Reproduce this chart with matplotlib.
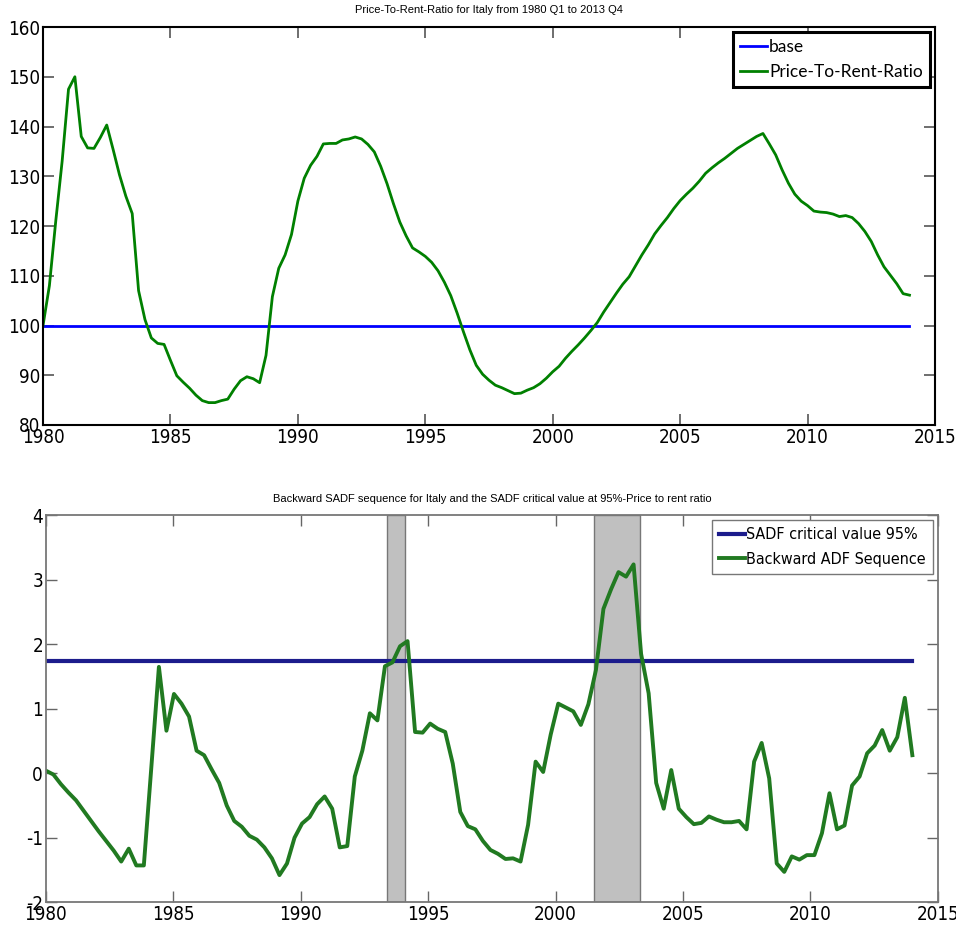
import numpy as np
import matplotlib.pyplot as plt

plt.rcParams['axes.unicode_minus'] = False

# quarterly price-to-rent ratio, 1980 Q1 .. 2014 Q1
ratio = [100, 108, 121, 133, 147.5, 150, 138, 135.7, 135.6, 137.8, 140.3, 135.4,
         130.3, 126, 122.5, 107, 101.2, 97.5, 96.4, 96.2, 93, 89.9, 88.6, 87.4,
         86, 84.9, 84.5, 84.5, 84.9, 85.2, 87.2, 88.9, 89.7, 89.3, 88.5, 94,
         105.8, 111.5, 114.2, 118.3, 125, 129.6, 132.2, 134, 136.5, 136.6, 136.6, 137.3,
         137.5, 137.9, 137.5, 136.4, 134.9, 132, 128.5, 124.5, 120.8, 118, 115.6, 114.8,
         113.9, 112.7, 111, 108.7, 106, 102.5, 98.7, 95.1, 92, 90.2, 89, 88,
         87.5, 86.9, 86.3, 86.4, 87, 87.5, 88.3, 89.4, 90.7, 91.8, 93.4, 94.8,
         96.1, 97.5, 99, 100.6, 102.7, 104.6, 106.5, 108.3, 109.8, 112, 114.2, 116.2,
         118.4, 120.1, 121.7, 123.5, 125.1, 126.4, 127.6, 129, 130.6, 131.7, 132.7, 133.6,
         134.6, 135.6, 136.4, 137.2, 138, 138.6, 136.5, 134.3, 131.3, 128.6, 126.4, 125,
         124.1, 123, 122.8, 122.7, 122.4, 121.9, 122.1, 121.7, 120.5, 118.9, 116.9, 114.2,
         111.8, 110.1, 108.4, 106.4, 106.1]
base = 100

# backward ADF statistics
badf = [0.04, -0.02, -0.17, -0.30, -0.42, -0.58, -0.74, -0.90, -1.05, -1.20,
        -1.37, -1.17, -1.43, -1.43, 0.1, 1.65, 0.66, 1.23, 1.08, 0.88,
        0.35, 0.28, 0.06, -0.15, -0.5, -0.74, -0.83, -0.97, -1.03, -1.15,
        -1.32, -1.58, -1.40, -1.0, -0.78, -0.68, -0.48, -0.36, -0.55, -1.15,
        -1.13, -0.05, 0.35, 0.93, 0.82, 1.66, 1.72, 1.97, 2.05, 0.64,
        0.63, 0.77, 0.69, 0.64, 0.15, -0.6, -0.82, -0.87, -1.05, -1.19,
        -1.25, -1.33, -1.32, -1.37, -0.8, 0.18, 0.02, 0.6, 1.08, 1.02,
        0.96, 0.75, 1.07, 1.6, 2.55, 2.85, 3.12, 3.05, 3.24, 1.85,
        1.24, -0.15, -0.55, 0.05, -0.55, -0.68, -0.79, -0.77, -0.67, -0.72,
        -0.76, -0.76, -0.74, -0.87, 0.18, 0.47, -0.08, -1.40, -1.53, -1.29,
        -1.34, -1.27, -1.27, -0.93, -0.31, -0.87, -0.81, -0.19, -0.05, 0.31,
        0.43, 0.67, 0.35, 0.56, 1.17, 0.28]
crit = 1.74
bubbles = [(1993.4, 1994.1), (2001.5, 2003.3)]

t1 = 1980 + np.arange(len(ratio)) / 4
t2 = np.linspace(1980, 2014, len(badf))
years = np.arange(1980, 2016, 5)

cond = {'family': 'DejaVu Sans', 'stretch': 'condensed'}

fig = plt.figure(figsize=(9.56, 9.32), dpi=100)

# ---- top panel
ax1 = fig.add_axes([0.045, 0.544, 0.933, 0.427])
ax1.plot(t1, np.full(len(t1), base), color='#0000ff', lw=2, label='base')
ax1.plot(t1, ratio, color='#008000', lw=2, label='Price-To-Rent-Ratio')
ax1.set_xlim(1980, 2015)
ax1.set_ylim(80, 160)
ax1.set_xticks(years)
ax1.set_yticks(np.arange(80, 161, 10))
ax1.tick_params(direction='in', length=8, width=1.2, color='#555555',
                top=True, right=True, labelsize=13.5, pad=2)
for lab in ax1.get_xticklabels() + ax1.get_yticklabels():
    lab.set_family(cond['family'])
    lab.set_stretch(cond['stretch'])
for s in ax1.spines.values():
    s.set_linewidth(1.5)
ax1.set_title('Price-To-Rent-Ratio for Italy from 1980 Q1 to 2013 Q4',
              fontsize=8, family='Liberation Sans', pad=10)
leg = ax1.legend(loc='upper right', prop={'family': 'Lato', 'size': 12.5},
                 handlelength=1.6, handletextpad=0.1, borderaxespad=0.3,
                 fancybox=False, framealpha=1, borderpad=0.4, labelspacing=0.5)
leg.get_frame().set_edgecolor('black')
leg.get_frame().set_linewidth(2.2)

# ---- bottom panel
ax2 = fig.add_axes([0.048, 0.032, 0.933, 0.415])
for a, b in bubbles:
    ax2.axvspan(a, b, facecolor='#c0c0c0', edgecolor='#777777', lw=1)
ax2.plot([1980, 2014], [crit, crit], color='#1c1c8c', lw=3,
         label='SADF critical value 95%')
ax2.plot(t2, badf, color='#217a21', lw=2.8, label='Backward ADF Sequence')
ax2.set_xlim(1980, 2015)
ax2.set_ylim(-2, 4)
ax2.set_xticks(years)
ax2.set_yticks(np.arange(-2, 5, 1))
ax2.tick_params(direction='in', length=8, width=1, color='#666666',
                top=True, right=True, labelsize=13.5, pad=2)
for lab in ax2.get_xticklabels() + ax2.get_yticklabels():
    lab.set_family(cond['family'])
    lab.set_stretch(cond['stretch'])
for s in ax2.spines.values():
    s.set_color('#777777')
    s.set_linewidth(1.3)
ax2.set_title('Backward SADF sequence for Italy and the SADF critical value at 95%-Price to rent ratio',
              fontsize=8, family='Liberation Sans', pad=10)
leg2 = ax2.legend(loc='upper right', prop={**cond, 'size': 11.5},
                  handlelength=1.6, handletextpad=0.1, borderaxespad=0.3,
                  fancybox=False, framealpha=1, borderpad=0.45, labelspacing=0.6)
leg2.get_frame().set_edgecolor('#777777')
leg2.get_frame().set_linewidth(1)

fig.savefig('out.png', dpi=100)
